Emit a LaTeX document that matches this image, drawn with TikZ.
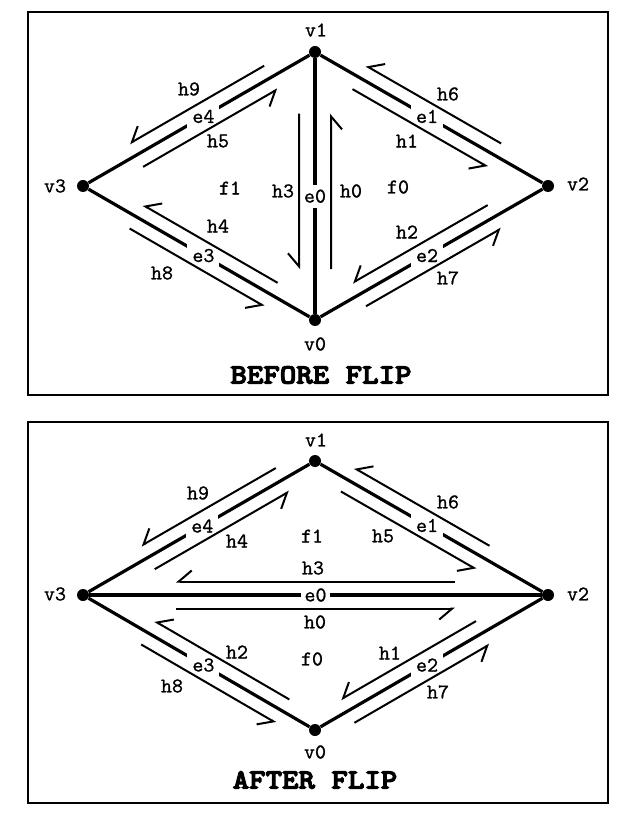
\documentclass[tikz,border=0pt]{standalone}
\usepackage{fontspec}
\usepackage{tikz}
\usetikzlibrary{arrows.meta, calc}

\newfontfamily\titlefont[FakeBold=3.5]{lmmonolt10-bold.otf}
\newfontfamily\lblfont[FakeBold=0.9]{lmmono10-regular.otf}

\tikzset{
  vertex/.style={circle, fill=black, inner sep=0pt, minimum size=6pt},
  edge/.style={line width=1.6pt},
  half/.style={line width=1pt, -{Straight Barb[right, length=6.5pt, width=11pt]}},
  lbl/.style={inner sep=1pt, font=\lblfont\fontsize{10.5}{12}\selectfont},
  elabel/.style={lbl, fill=white, inner sep=2.5pt},
  frame/.style={line width=1pt},
  title/.style={font=\titlefont\fontsize{14}{16}\selectfont, xscale=1.12, transform shape},
}
% half-edge from #2 to #3, drawn on its right, between fractions #4 and #5
\newcommand{\hedge}[5][6.75pt]{%
  \draw[half] ($(#2)!#4!(#3)!#1!-90:(#3)$) -- ($(#2)!#5!(#3)!#1!90:(#2)$);}

\begin{document}
\begin{tikzpicture}[x=0.5pt, y=-0.5pt]
\useasboundingbox (0,0) rectangle (628,817);

% before flip
\draw[frame] (28,12) rectangle (608,395);
\node[vertex] (bv1) at (315,52) {};
\node[vertex] (bv3) at (83,186) {};
\node[vertex] (bv2) at (548,186) {};
\node[vertex] (bv0) at (315,320) {};
\node[lbl] (bv1-l) at (316,30) {v1};
\node[lbl] (bv3-l) at (55,186) {v3};
\node[lbl] (bv2-l) at (578,184) {v2};
\node[lbl] (bv0-l) at (315,344) {v0};

\draw[edge] (bv3) -- node[elabel, pos=0.52] (be4) {e4} (bv1);
\draw[edge] (bv1) -- node[elabel, pos=0.48] (be1) {e1} (bv2);
\draw[edge] (bv3) -- node[elabel, pos=0.52] (be3) {e3} (bv0);
\draw[edge] (bv0) -- node[elabel, pos=0.48] (be2) {e2} (bv2);
\draw[edge] (bv1) -- node[elabel, pos=0.54] (be0) {e0} (bv0);

\hedge{bv1}{bv3}{0.19}{0.77}
\hedge{bv3}{bv1}{0.23}{0.81}
\hedge{bv2}{bv1}{0.23}{0.81}
\hedge{bv1}{bv2}{0.19}{0.77}
\hedge{bv0}{bv3}{0.19}{0.77}
\hedge{bv3}{bv0}{0.23}{0.81}
\hedge{bv2}{bv0}{0.23}{0.81}
\hedge{bv0}{bv2}{0.19}{0.77}
\hedge[8pt]{bv1}{bv0}{0.23}{0.81}
\hedge[8pt]{bv0}{bv1}{0.19}{0.77}

\node[lbl] (bh9) at (189,89) {h9};
\node[lbl] (bh5) at (218,141) {h5};
\node[lbl] (bh6) at (448,94) {h6};
\node[lbl] (bh1) at (407,141) {h1};
\node[lbl] (bh4) at (218,226) {h4};
\node[lbl] (bh8) at (162,273) {h8};
\node[lbl] (bh2) at (407,232) {h2};
\node[lbl] (bh7) at (448,278) {h7};
\node[lbl] (bh3) at (283,191) {h3};
\node[lbl] (bh0) at (351,191) {h0};
\node[lbl] (bf1) at (230,188) {f1};
\node[lbl] (bf0) at (398,187) {f0};
\node[title] (btitle) at (321,375) {BEFORE FLIP};

% after flip
\draw[frame] (28,422) rectangle (608,803);
\node[vertex] (av1) at (315,461) {};
\node[vertex] (av3) at (83,595) {};
\node[vertex] (av2) at (548,595) {};
\node[vertex] (av0) at (315,730) {};
\node[lbl] (av1-l) at (316,440) {v1};
\node[lbl] (av3-l) at (55,594) {v3};
\node[lbl] (av2-l) at (578,594) {v2};
\node[lbl] (av0-l) at (315,752) {v0};

\draw[edge] (av3) -- node[elabel, pos=0.515] (ae4) {e4} (av1);
\draw[edge] (av1) -- node[elabel, pos=0.48] (ae1) {e1} (av2);
\draw[edge] (av3) -- node[elabel, pos=0.52] (ae3) {e3} (av0);
\draw[edge] (av0) -- node[elabel, pos=0.48] (ae2) {e2} (av2);
\draw[edge] (av3) -- node[elabel, pos=0.5, inner sep=1.5pt] (ae0) {e0} (av2);

\hedge{av1}{av3}{0.14}{0.72}
\hedge{av3}{av1}{0.28}{0.86}
\hedge{av2}{av1}{0.28}{0.86}
\hedge{av1}{av2}{0.14}{0.72}
\hedge{av0}{av3}{0.14}{0.72}
\hedge{av3}{av0}{0.28}{0.86}
\hedge{av2}{av0}{0.28}{0.86}
\hedge{av0}{av2}{0.14}{0.72}
\hedge{av2}{av3}{0.2}{0.8}
\hedge{av3}{av2}{0.2}{0.8}

\node[lbl] (ah9) at (198,493) {h9};
\node[lbl] (ah4) at (237,541) {h4};
\node[lbl] (ah6) at (448,502) {h6};
\node[lbl] (ah5) at (383,536) {h5};
\node[lbl] (ah3) at (313,568) {h3};
\node[lbl] (ah0) at (315,622) {h0};
\node[lbl] (ah2) at (237,652) {h2};
\node[lbl] (ah8) at (172,686) {h8};
\node[lbl] (ah1) at (390,653) {h1};
\node[lbl] (ah7) at (438,692) {h7};
\node[lbl] (af1) at (312,536) {f1};
\node[lbl] (af0) at (312,659) {f0};
\node[title] (atitle) at (315,780) {AFTER FLIP};
\end{tikzpicture}
\end{document}
